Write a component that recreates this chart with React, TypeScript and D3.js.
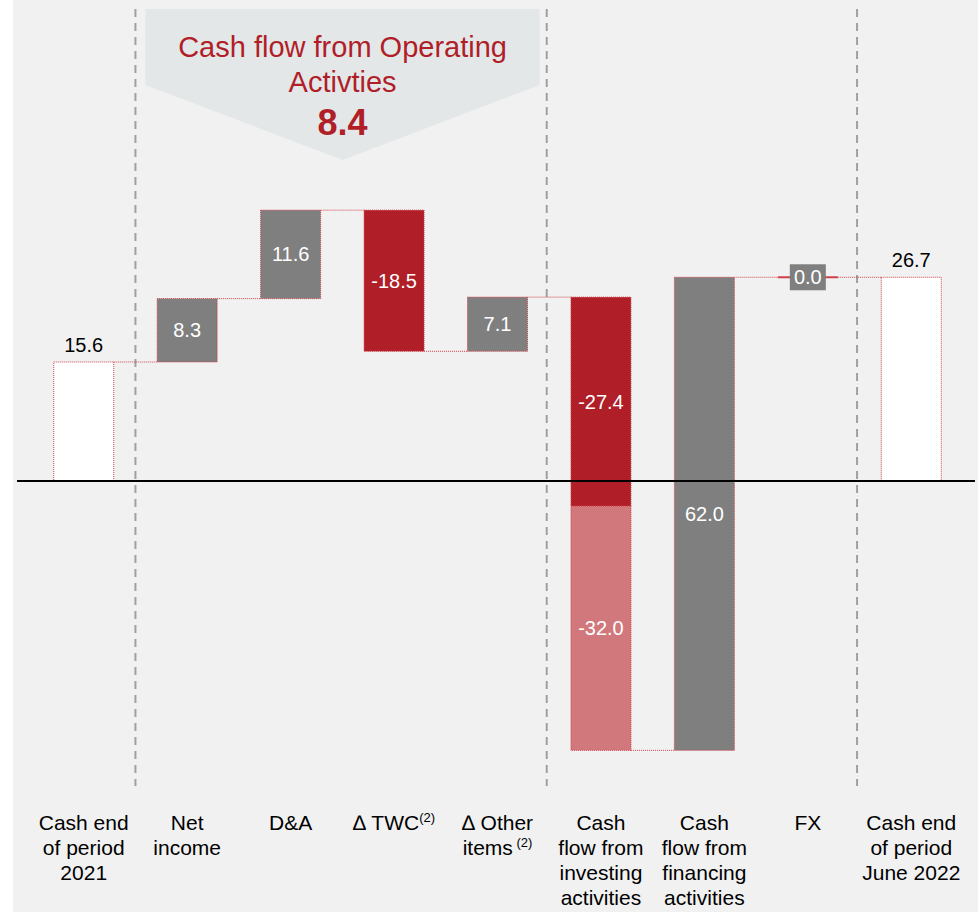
import * as d3 from "d3";
import { useEffect } from "react";

// categories (label lines)
const categories = [
  "start",
  "net",
  "da",
  "twc",
  "other",
  "investing",
  "financing",
  "fx",
  "end",
];
const categoryLines: string[][] = [
  ["Cash end", "of period", "2021"],
  ["Net", "income"],
  ["D&A"],
  ["\u2206 TWC"],
  ["\u2206 Other", "items"],
  ["Cash", "flow from", "investing", "activities"],
  ["Cash", "flow from", "financing", "activities"],
  ["FX"],
  ["Cash end", "of period", "June 2022"],
];
const superscripts = ["", "", "", "(2)", " (2)", "", "", "", ""];

// values
const startCash = 15.6;
const endCash = 26.7;
const deltas = [8.3, 11.6, -18.5, 7.1];
const investing = [-27.4, -32.0];
const financing = 62.0;
const fx = 0.0;
const operatingTotal = 8.4;

const W = 979;
const H = 912;
const RED = "#b01e28";
const LIGHT_RED = "#d0787c";
const GRAY = "#7f7f7f";
const BORDER = "#d0404c";
const FONT = "'Liberation Sans', Arial, sans-serif";

type Seg = { key: string; y0: number; y1: number; fill: string; label: string; outside?: boolean };

export default function App() {
  useEffect(() => {
    document.body.style.margin = "0";
  }, []);

  const x = d3
    .scaleBand()
    .domain(categories)
    .range([32, 963])
    .paddingInner(0.42)
    .paddingOuter(0.21);
  const y = d3.scaleLinear().domain([-40, 40]).range([786.2, 175.8]);

  // build waterfall segments
  const segs: Seg[] = [];
  segs.push({ key: "start", y0: 0, y1: startCash, fill: "#ffffff", label: startCash.toFixed(1), outside: true });
  let run = startCash;
  const levels: number[] = [startCash];
  deltas.forEach((d, i) => {
    const k = categories[i + 1];
    segs.push({ key: k, y0: run, y1: run + d, fill: d < 0 ? RED : GRAY, label: d.toFixed(1) });
    run += d;
    levels.push(run);
  });
  segs.push({ key: "investing", y0: run, y1: run + investing[0], fill: RED, label: investing[0].toFixed(1) });
  run += investing[0];
  segs.push({ key: "investing", y0: run, y1: run + investing[1], fill: LIGHT_RED, label: investing[1].toFixed(1) });
  run += investing[1];
  levels.push(run);
  segs.push({ key: "financing", y0: run, y1: run + financing, fill: GRAY, label: financing.toFixed(1) });
  run += financing;
  levels.push(run);
  const fxLevel = run + fx;
  levels.push(fxLevel);
  segs.push({ key: "end", y0: 0, y1: endCash, fill: "#ffffff", label: endCash.toFixed(1), outside: true });

  const bw = x.bandwidth();
  const cx = (k: string) => (x(k) ?? 0) + bw / 2;

  // dividers between groups
  const dividerAfter = [0, 4, 7];
  const dividers = dividerAfter.map((i) => ((x(categories[i]) ?? 0) + bw + (x(categories[i + 1]) ?? 0)) / 2 - (i ? 2.5 : 0));

  const calloutL = dividers[0] + 10;
  const calloutR = dividers[1] - 7;
  const calloutMid = (calloutL + calloutR) / 2;

  return (
    <svg width={W} height={H} style={{ display: "block" }} fontFamily={FONT}>
      <rect x={13} y={0} width={W - 14} height={H} fill="#f1f1f1" />

      {/* callout */}
      <path
        d={`M${calloutL},9 L${calloutR},9 L${calloutR},85 L${calloutMid},160 L${calloutL},85 Z`}
        fill="#e3e7e8"
      />
      <text x={calloutMid} y={57} textAnchor="middle" fill={RED} fontSize={29}>
        Cash flow from Operating
      </text>
      <text x={calloutMid} y={92} textAnchor="middle" fill={RED} fontSize={29}>
        Activties
      </text>
      <text x={calloutMid} y={135} textAnchor="middle" fill={RED} fontSize={36} fontWeight="bold">
        {operatingTotal.toFixed(1)}
      </text>

      {/* dashed dividers */}
      {dividers.map((dx, i) => (
        <line key={i} x1={dx} x2={dx} y1={9} y2={786} stroke="#a0a0a0" strokeWidth={2} strokeDasharray="8 6" />
      ))}

      {/* connectors */}
      {levels.map((lv, i) => {
        const a = categories[i];
        const b = categories[i + 1];
        return (
          <line
            key={`c${i}`}
            x1={(x(a) ?? 0) + bw}
            x2={x(b) ?? 0}
            y1={y(lv)}
            y2={y(lv)}
            stroke={BORDER}
            strokeWidth={1}
            strokeDasharray="1 1"
          />
        );
      })}

      {/* bars */}
      {segs.map((s, i) => {
        const top = y(Math.max(s.y0, s.y1));
        const bot = y(Math.min(s.y0, s.y1));
        return (
          <rect
            key={`b${i}`}
            x={x(s.key)}
            y={top}
            width={bw}
            height={bot - top}
            fill={s.fill}
            stroke={BORDER}
            strokeWidth={1}
            strokeDasharray="1 1"
          />
        );
      })}

      {/* zero line */}
      <line x1={17} x2={975} y1={y(0)} y2={y(0)} stroke="#000" strokeWidth={2} />

      {/* FX marker */}
      <line x1={x("fx")} x2={(x("fx") ?? 0) + bw} y1={y(fxLevel)} y2={y(fxLevel)} stroke={BORDER} strokeWidth={2} />
      <rect x={cx("fx") - 18} y={y(fxLevel) - 13} width={36} height={26} fill={GRAY} />
      <text x={cx("fx")} y={y(fxLevel) + 7} textAnchor="middle" fill="#fff" fontSize={20}>
        {fx.toFixed(1)}
      </text>

      {/* value labels */}
      {segs.map((s, i) => {
        const top = y(Math.max(s.y0, s.y1));
        const bot = y(Math.min(s.y0, s.y1));
        return s.outside ? (
          <text key={`l${i}`} x={cx(s.key)} y={top - 10} textAnchor="middle" fill="#000" fontSize={20}>
            {s.label}
          </text>
        ) : (
          <text key={`l${i}`} x={cx(s.key)} y={(top + bot) / 2 + 7} textAnchor="middle" fill="#fff" fontSize={20}>
            {s.label}
          </text>
        );
      })}

      {/* category labels */}
      {categories.map((k, i) => (
        <text key={`t${k}`} x={cx(k)} textAnchor="middle" fill="#000" fontSize={21}>
          {categoryLines[i].map((ln, j) => (
            <tspan key={j} x={cx(k)} y={830 + j * 25}>
              {ln}
              {j === categoryLines[i].length - 1 && superscripts[i] ? (
                <tspan fontSize={13} dy={-8}>
                  {superscripts[i]}
                </tspan>
              ) : null}
            </tspan>
          ))}
        </text>
      ))}
    </svg>
  );
}
